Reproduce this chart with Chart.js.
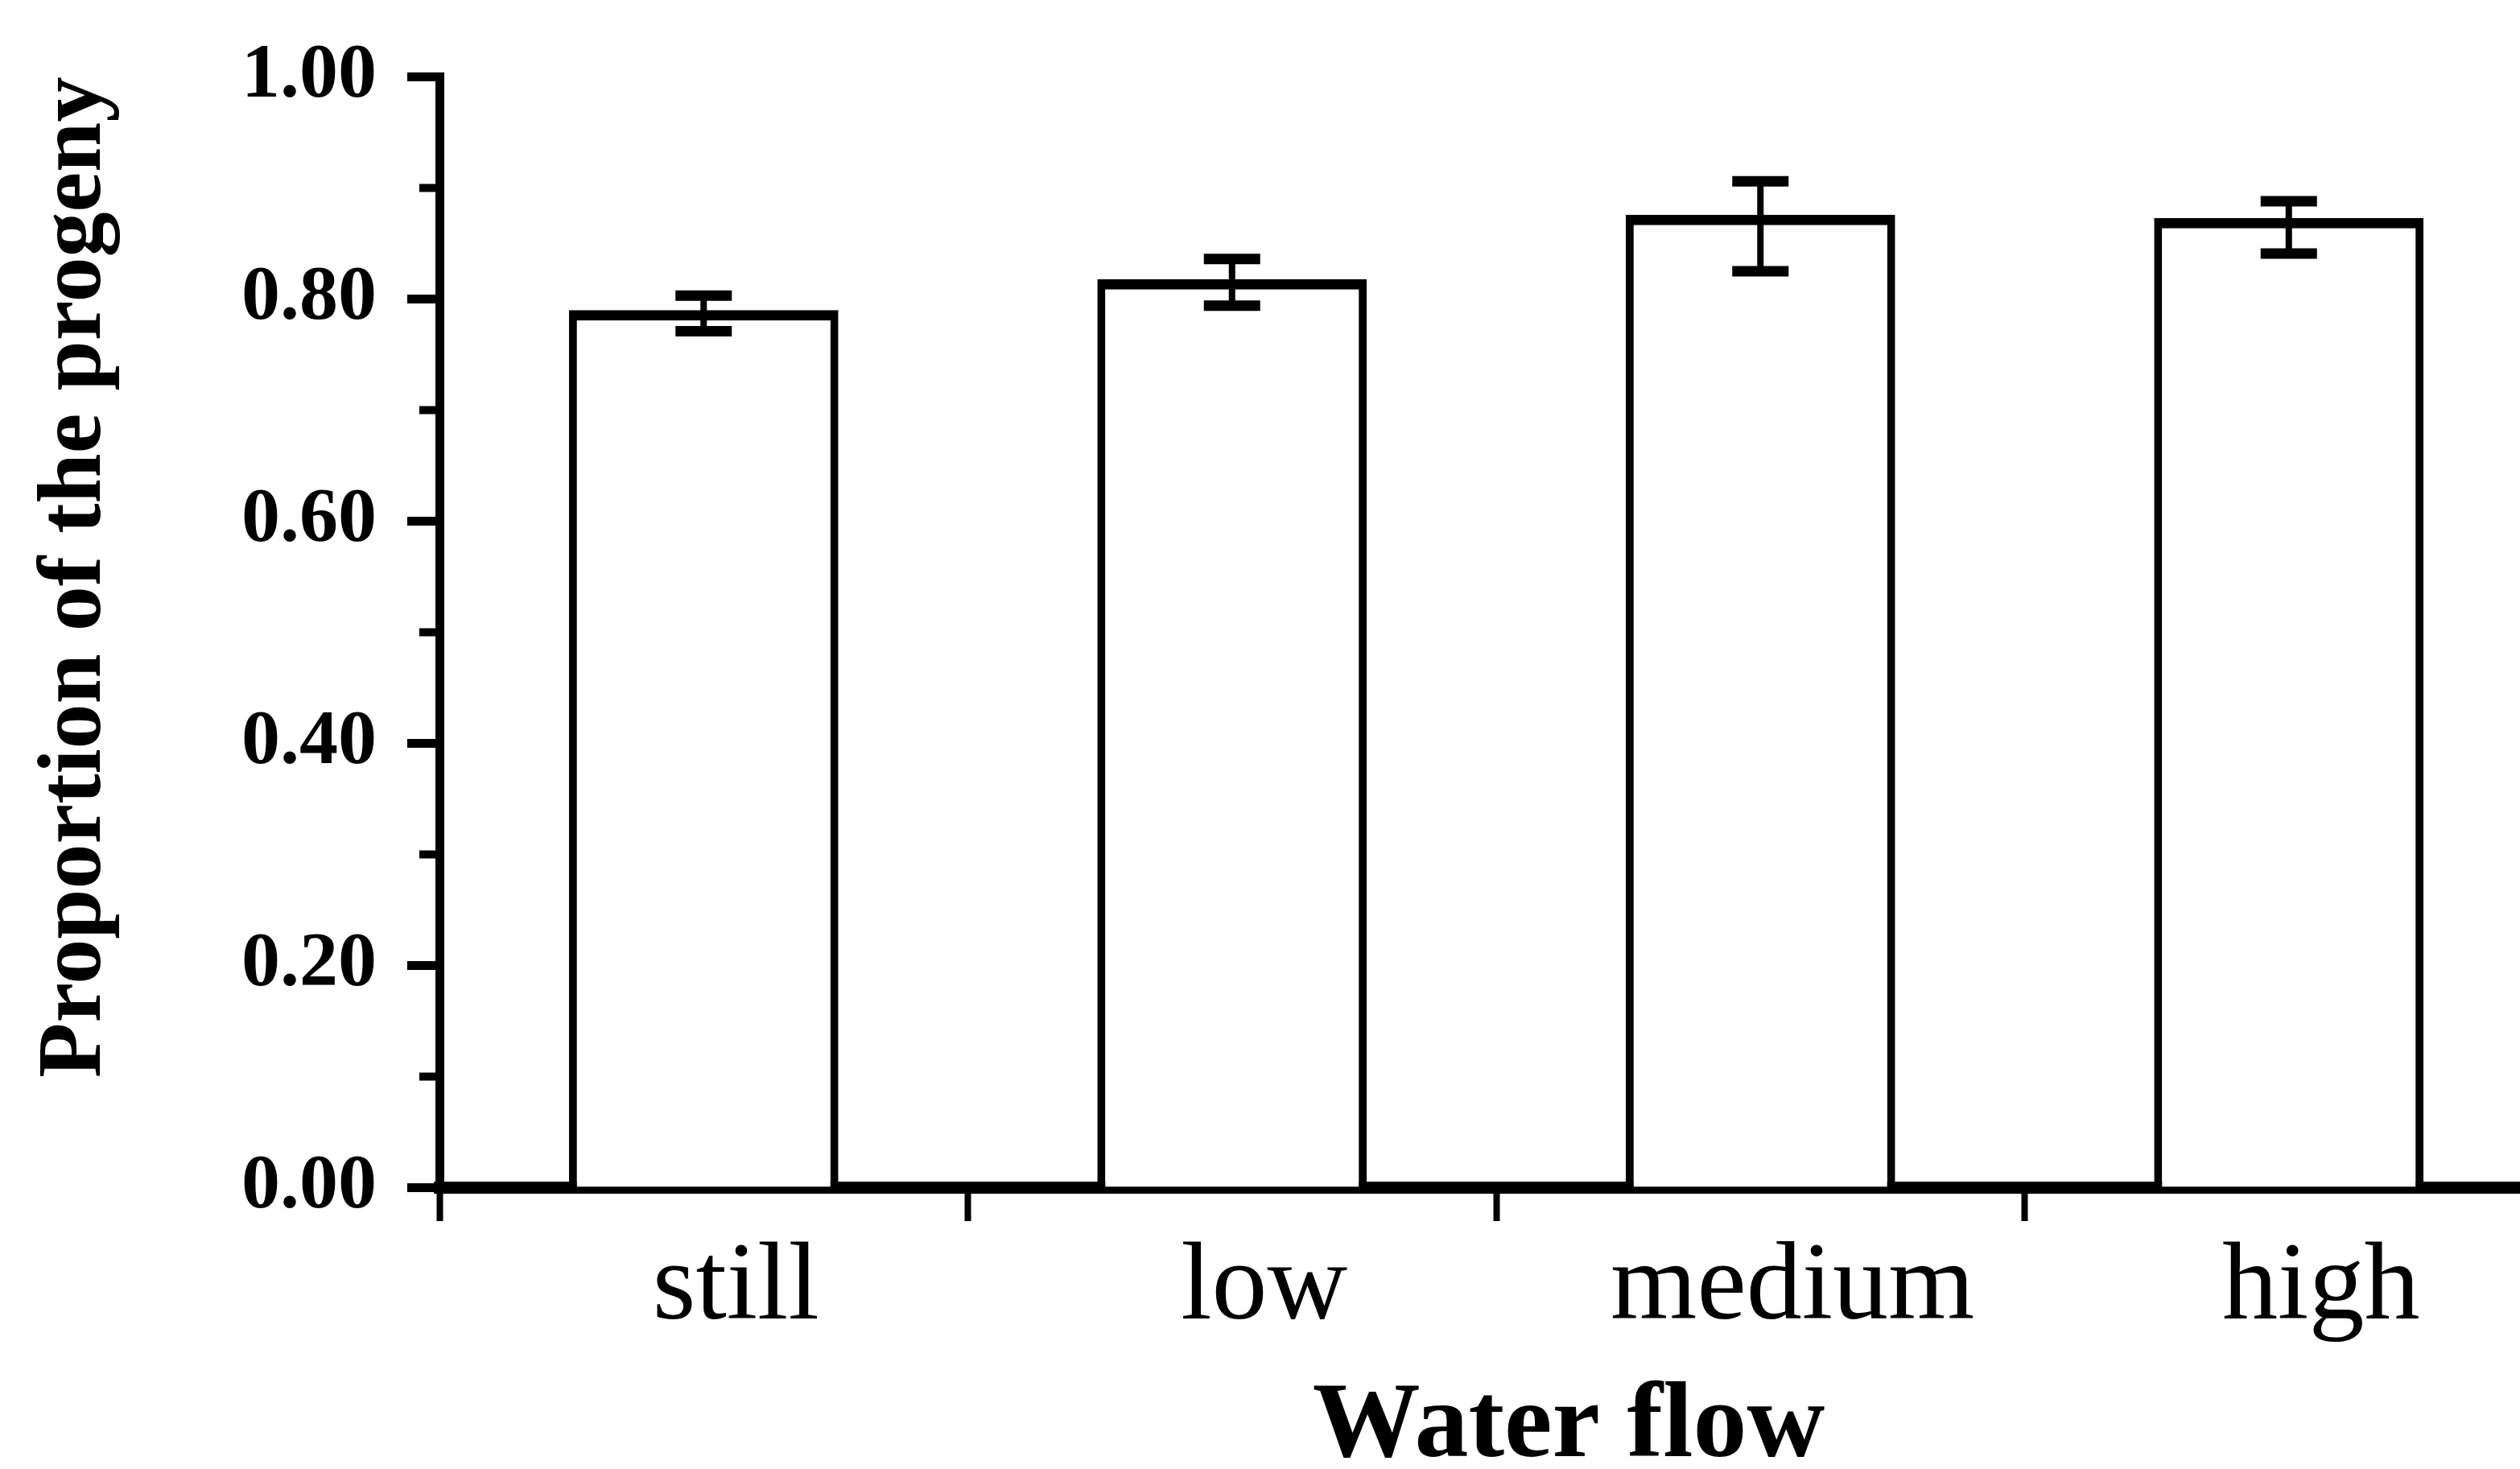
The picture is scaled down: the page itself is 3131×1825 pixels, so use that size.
<!DOCTYPE html>
<html>
<head>
<meta charset="utf-8">
<script src="https://cdn.jsdelivr.net/npm/chart.js@4.4.1/dist/chart.umd.min.js"></script>
<style>
  html, body { margin: 0; padding: 0; background: #fff; overflow: hidden; }
  #wrap { position: relative; width: 3172px; height: 1825px; }
</style>
</head>
<body>
<div id="wrap"><canvas id="c"></canvas></div>
<script>
// Proportion of the progeny under four water-flow treatments, with error-bar limits
const categories = ['still', 'low', 'medium', 'high'];
const proportion = [0.790, 0.818, 0.876, 0.873];
const errorUpper = [0.803, 0.836, 0.906, 0.888];
const errorLower = [0.771, 0.794, 0.825, 0.841];
const yTicks = [0, 0.2, 0.4, 0.6, 0.8, 1.0];
const yMinorTicks = [0, 0.1, 0.2, 0.3, 0.4, 0.5, 0.6, 0.7, 0.8, 0.9, 1.0];
const yTitle = 'Proportion of the progeny';
const xTitle = 'Water flow';

const FONT = '"Liberation Serif", "Times New Roman", serif';

// Whiskers with end caps, placed through the y scale
const errorBars = {
  id: 'errorBars',
  afterDatasetsDraw(chart) {
    const { ctx } = chart;
    const yScale = chart.scales.y;
    const meta = chart.getDatasetMeta(0);
    ctx.save();
    ctx.strokeStyle = '#000';
    ctx.lineCap = 'butt';
    meta.data.forEach((bar, i) => {
      const hi = yScale.getPixelForValue(errorUpper[i]);
      const lo = yScale.getPixelForValue(errorLower[i]);
      const x = bar.x;
      const half = 35;
      ctx.lineWidth = 8;
      ctx.beginPath();
      ctx.moveTo(x, hi);
      ctx.lineTo(x, lo);
      ctx.stroke();
      ctx.lineWidth = 13;
      ctx.beginPath();
      ctx.moveTo(x - half, hi);
      ctx.lineTo(x + half, hi);
      ctx.moveTo(x - half, lo);
      ctx.lineTo(x + half, lo);
      ctx.stroke();
    });
    ctx.restore();
  }
};

// Axis title under the category labels
const xAxisTitle = {
  id: 'xAxisTitle',
  afterDraw(chart) {
    const { ctx } = chart;
    const xScale = chart.scales.x;
    ctx.save();
    ctx.font = 'bold 134px ' + FONT;
    ctx.fillStyle = '#000';
    ctx.textAlign = 'center';
    ctx.textBaseline = 'alphabetic';
    ctx.fillText(xTitle, (xScale.left + xScale.right) / 2 + 90, xScale.bottom - 16);
    ctx.restore();
  }
};

new Chart(document.getElementById('c'), {
  type: 'bar',
  data: {
    labels: categories,
    datasets: [{
      data: proportion,
      backgroundColor: '#fff',
      borderColor: '#000',
      borderWidth: { top: 13, left: 10, right: 10, bottom: 0 },
      borderSkipped: false,
      barPercentage: 0.51,
      categoryPercentage: 1.0
    }]
  },
  options: {
    responsive: true,
    maintainAspectRatio: false,
    animation: false,
    devicePixelRatio: 1,
    layout: { padding: { top: 95, left: 0, right: 0, bottom: 0 } },
    plugins: {
      legend: { display: false },
      tooltip: { enabled: false }
    },
    scales: {
      x: {
        offset: true,
        grid: { offset: true, drawOnChartArea: false, drawTicks: true, tickLength: 42, tickWidth: 8, color: '#000' },
        border: { display: true, color: '#000', width: 15 },
        ticks: {
          color: '#000',
          font: { family: FONT, size: 138 },
          padding: 2,
          labelOffset: 40,
          maxRotation: 0,
          autoSkip: false
        },
        afterFit: s => { s.height = 350; }
      },
      y: {
        min: 0,
        max: 1,
        weight: 1,
        afterBuildTicks: s => { s.ticks = yTicks.map(v => ({ value: v })); },
        ticks: {
          callback: v => Number(v).toFixed(2),
          color: '#000',
          font: { family: FONT, size: 96, weight: 'bold' },
          padding: 38
        },
        grid: { drawOnChartArea: false, tickLength: 40, tickWidth: 11, color: '#000' },
        border: { color: '#000', width: 11 },
        title: {
          display: true,
          text: yTitle,
          align: 'end',
          color: '#000',
          font: { family: FONT, size: 112, weight: 'bold' },
          padding: { top: 28, bottom: 0 }
        },
        afterFit: s => { s.width = 546; }
      },
      yMinor: {
        position: 'left',
        min: 0,
        max: 1,
        weight: 0,
        afterBuildTicks: s => { s.ticks = yMinorTicks.map(v => ({ value: v })); },
        ticks: { display: false },
        grid: { drawOnChartArea: false, tickLength: 25, tickWidth: 10, color: '#000' },
        border: { display: false },
        afterFit: s => { s.width = 0; }
      }
    }
  },
  plugins: [errorBars, xAxisTitle]
});
</script>
</body>
</html>
